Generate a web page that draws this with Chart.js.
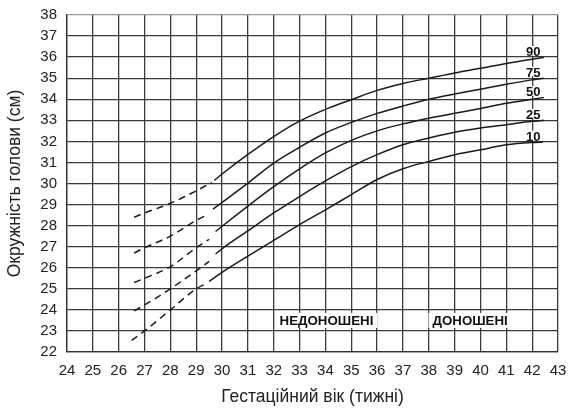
<!DOCTYPE html>
<html><head><meta charset="utf-8">
<script src="https://cdn.jsdelivr.net/npm/chart.js@4.4.1/dist/chart.umd.min.js"></script>
<style>html,body{margin:0;padding:0;background:#fff;}#wrap{width:570px;height:408px;}</style>
</head><body><div id="wrap"><canvas id="c" width="570" height="408"></canvas></div>
<script>
// Tick range (weeks / cm)
const xTicksMin = 24, xTicksMax = 43;
const yTicksMin = 22, yTicksMax = 38;

// Percentile names
const percentiles = ['90', '75', '50', '25', '10'];

// [week, head circumference cm] – dashed (early) parts
const p90Dashed = [[26.6,28.4],[27,28.6],[28,29.06],[29,29.65],[29.6,30.05]];
const p75Dashed = [[26.6,26.7],[27,26.95],[28,27.5],[29,28.25],[29.4,28.5]];
const p50Dashed = [[26.6,25.3],[27,25.5],[28,26.05],[29,26.95],[29.5,27.35]];
const p25Dashed = [[26.6,23.95],[27,24.23],[28,25.0],[29,25.85],[29.5,26.3]];
const p10Dashed = [[26.5,22.55],[27,23.0],[28,24.0],[29,25.0],[29.4,25.25]];

// solid parts
const p90Solid = [[29.7,30.15],[30,30.45],[31,31.38],[32,32.23],[33,32.96],[34,33.52],[35,33.98],[36,34.42],[37,34.75],[38,35.0],[39,35.25],[40,35.47],[41,35.7],[42,35.9],[42.45,35.98]];
const p75Solid = [[29.65,28.78],[30,29.1],[31,30.02],[32,30.97],[33,31.72],[34,32.4],[35,32.9],[36,33.33],[37,33.68],[38,34.0],[39,34.25],[40,34.48],[41,34.71],[42,34.92],[42.45,35.0]];
const p50Solid = [[29.75,27.72],[30,27.97],[31,28.93],[32,29.85],[33,30.7],[34,31.45],[35,32.05],[36,32.5],[37,32.83],[38,33.1],[39,33.33],[40,33.56],[41,33.81],[42,34.0],[42.45,34.08]];
const p25Solid = [[29.75,26.65],[30,26.9],[31,27.75],[32,28.6],[33,29.38],[34,30.12],[35,30.8],[36,31.37],[37,31.84],[38,32.16],[39,32.43],[40,32.63],[41,32.79],[42,32.95],[42.45,33.0]];
const p10Solid = [[29.5,25.35],[30,25.78],[31,26.55],[32,27.3],[33,28.05],[34,28.75],[35,29.47],[36,30.19],[37,30.7],[38,31.05],[39,31.37],[40,31.6],[41,31.84],[42,31.95],[42.42,31.97]];

// Region labels
const regionLabels = ['НЕДОНОШЕНІ', 'ДОНОШЕНІ'];
const regionWeeks = [34.04, 39.6];
const regionValue = 23.5;

const dashedSets = [p90Dashed, p75Dashed, p50Dashed, p25Dashed, p10Dashed];
const solidSets = [p90Solid, p75Solid, p50Solid, p25Solid, p10Solid];
const toPts = a => a.map(p => ({x: p[0], y: p[1]}));

const FONT = '"Liberation Sans", Arial, Helvetica, sans-serif';
const datasets = [];
percentiles.forEach((p, i) => {
  datasets.push({label: p + ' dashed', data: toPts(dashedSets[i]), borderDash: [7, 5]});
  datasets.push({label: p, data: toPts(solidSets[i])});
});

const labelPlugin = {
  id: 'labels',
  afterDatasetsDraw(chart) {
    const ctx = chart.ctx, xs = chart.scales.x, ys = chart.scales.y;
    ctx.save();
    ctx.font = 'bold 13px ' + FONT;
    ctx.textAlign = 'center';
    ctx.textBaseline = 'alphabetic';
    percentiles.forEach((p, i) => {
      const last = solidSets[i][solidSets[i].length - 1];
      const x = xs.getPixelForValue(42) + 1;
      const y = ys.getPixelForValue(last[1]) - 1.5;
      const w = ctx.measureText(p).width;
      ctx.fillStyle = '#fff';
      ctx.fillRect(x - w / 2 - 1, y - 10, w + 2, 9.5);
      ctx.fillStyle = '#111';
      ctx.fillText(p, x, y);
    });
    ctx.font = 'bold 13.3px ' + FONT;
    ctx.textBaseline = 'middle';
    regionLabels.forEach((t, i) => {
      const x = xs.getPixelForValue(regionWeeks[i]);
      const y = ys.getPixelForValue(regionValue);
      const w = ctx.measureText(t).width;
      ctx.fillStyle = '#fff';
      ctx.fillRect(x - w / 2 - 4, y - 7.5, w + 8, 15);
      ctx.fillStyle = '#111';
      ctx.fillText(t, x, y + 0.5);
    });
    ctx.restore();
  }
};

new Chart(document.getElementById('c'), {
  type: 'line',
  data: {datasets},
  options: {
    responsive: false,
    animation: false,
    devicePixelRatio: 1,
    layout: {padding: {left: 0, right: 12, top: 15, bottom: 0}},
    elements: {
      point: {radius: 0},
      line: {borderColor: '#1a1a1a', borderWidth: 1.5, cubicInterpolationMode: 'monotone', fill: false}
    },
    plugins: {legend: {display: false}, tooltip: {enabled: false}},
    scales: {
      x: {
        type: 'linear', min: xTicksMin, max: xTicksMax,
        afterFit: s => { s.height = 56; s.paddingLeft = 0; s.paddingRight = 0; },
        ticks: {stepSize: 1, autoSkip: false, maxRotation: 0, padding: 10, color: '#222', font: {family: FONT, size: 15}},
        grid: {color: '#3a3a3a', lineWidth: 1.3, drawTicks: false},
        border: {display: true, color: '#333', width: 1.3},
        title: {display: true, text: 'Гестаційний вік (тижні)', color: '#222',
                font: {family: FONT, size: 17.5}, padding: {top: 0, bottom: 0.5}}
      },
      y: {
        type: 'linear', min: yTicksMin, max: yTicksMax,
        afterFit: s => { s.width = 67; s.paddingTop = 0; s.paddingBottom = 0; },
        ticks: {stepSize: 1, autoSkip: false, padding: 10, color: '#222', font: {family: FONT, size: 15}},
        grid: {color: ctx => ctx.tick && ctx.tick.value === yTicksMax ? '#9a9a9a' : '#3a3a3a', lineWidth: 1.3, drawTicks: false},
        border: {display: true, color: '#333', width: 1.3},
        title: {display: true, text: 'Окружність голови (см)', color: '#222',
                font: {family: FONT, size: 17.5}, padding: {top: 4.5, bottom: 0}}
      }
    }
  },
  plugins: [labelPlugin]
});
</script></body></html>
